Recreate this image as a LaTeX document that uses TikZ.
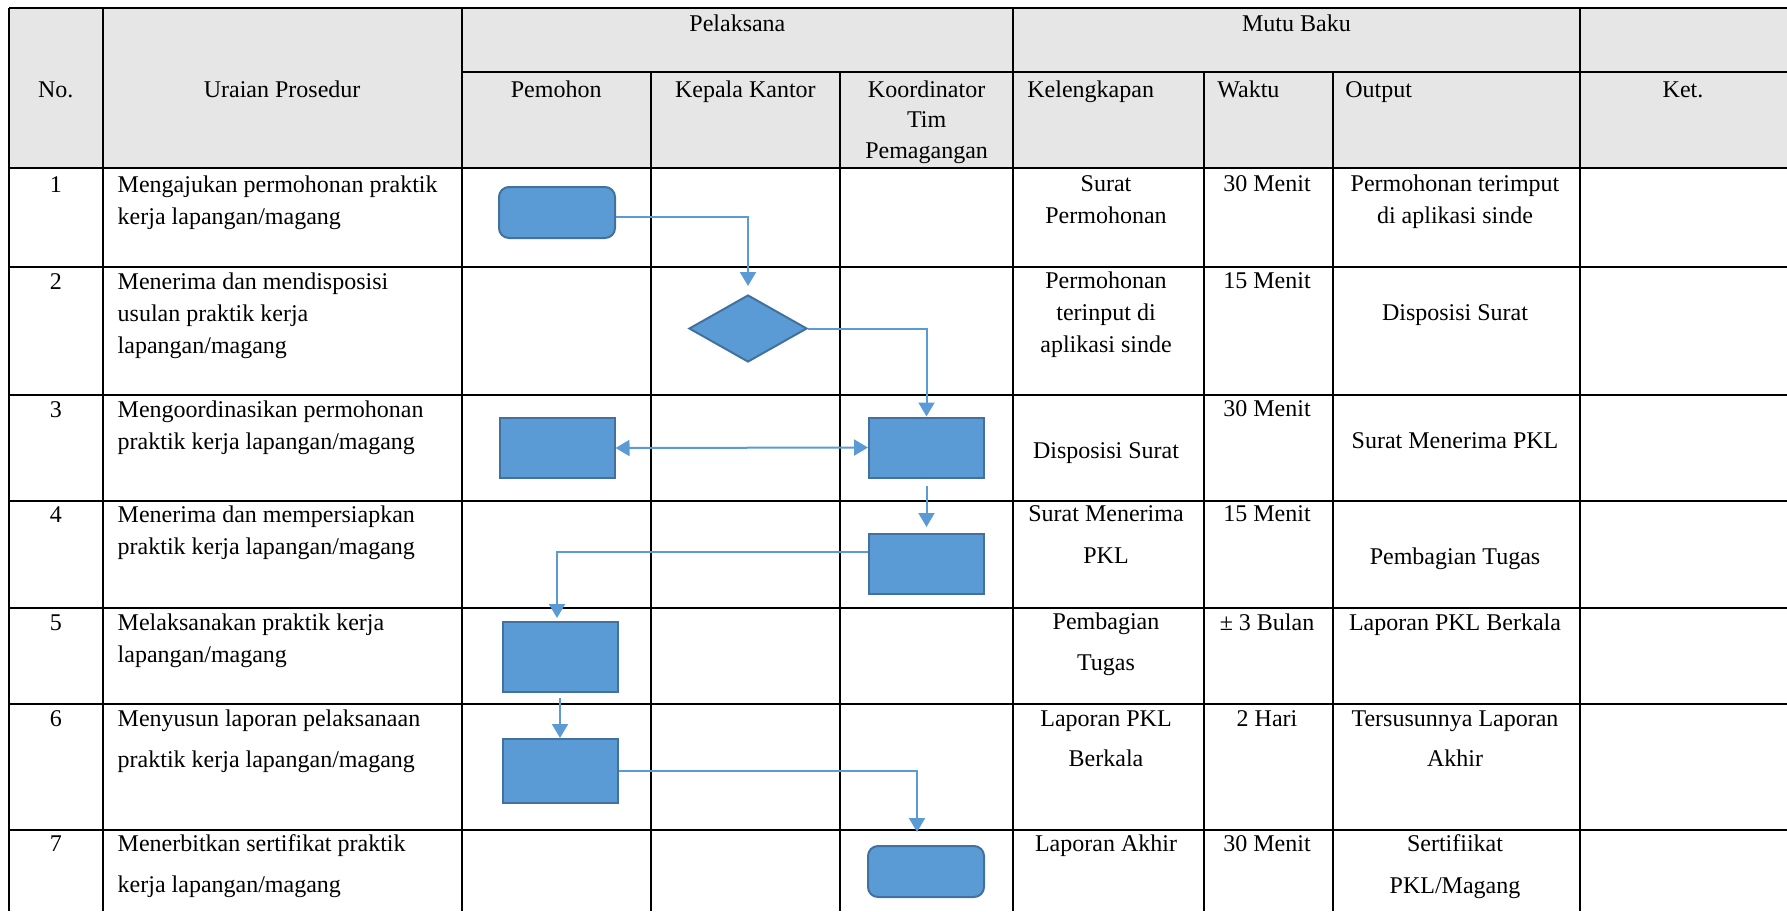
\documentclass[tikz,border=0pt]{standalone}
\usepackage{fontspec}
\setmainfont{Liberation Serif}
\usetikzlibrary{shapes.geometric,arrows.meta}

\definecolor{hdrgray}{HTML}{E7E6E6}
\definecolor{flowfill}{HTML}{5B9BD5}
\definecolor{flowline}{HTML}{41719C}

\begin{document}
\begin{tikzpicture}[x=0.5pt,y=-0.5pt]
  \tikzset {
    tabline/.style={line width=1pt, draw=black},
    txt/.style={anchor=base, inner sep=0, align=center,
      font=\fontsize{12}{16}\selectfont},
    lefttxt/.style={txt, anchor=base west, align=left},
    spaced/.style={font=\fontsize{12}{20.3}\selectfont},
    proc/.style={
      rectangle,
      draw=flowline,
      fill=flowfill,
      line width=1pt,
      inner sep=0,
      minimum width=57.5pt,
      minimum height=30pt
    },
    term/.style={proc, rounded corners=5pt, minimum width=58pt, minimum height=25.5pt},
    choice/.style={
      diamond,
      draw=flowline,
      fill=flowfill,
      line width=1pt,
      inner sep=0,
      aspect=1.76,
      minimum width=59pt,
      minimum height=33.5pt
    },
    flow/.style={draw=flowfill, line width=1pt, -{Triangle[width=8pt,length=7pt]}}
  }
  \useasboundingbox (0,0) rectangle (1787,911);

  % table
  \fill[hdrgray] (9,8) rectangle (1787,168);
  \draw[tabline] (9,8) -- (1787,8);
  \draw[tabline] (461.6,72) -- (1787,72);
  \foreach \y in {168,266.7,395,500.7,607.7,703.7,829.7}
    \draw[tabline] (9,\y) -- (1787,\y);
  \foreach \x in {9,102.6,461.6,1013.2,1579.6}
    \draw[tabline] (\x,8) -- (\x,911);
  \foreach \x in {650.8,840,1203.5,1333.4}
    \draw[tabline] (\x,72) -- (\x,911);

  % header (multi-line nodes sit on their last baseline)
  \node[txt](pelaksana) at (737.4,31.7) {Pelaksana};
  \node[txt](mutubaku) at (1296.4,31.7) {Mutu Baku};
  \node[txt](hno) at (55.8,97) {No.};
  \node[txt](huraian) at (282.1,97) {Uraian Prosedur};
  \node[txt](hpemohon) at (556.2,97) {Pemohon};
  \node[txt](hkepala) at (745.4,97) {Kepala Kantor};
  \node[txt, font=\fontsize{12}{15.4}\selectfont](hkoord) at (926.6,158.6) {Koordinator\\Tim\\Pemagangan};
  \node[lefttxt](hkel) at (1027,97) {Kelengkapan};
  \node[lefttxt](hwaktu) at (1217,97) {Waktu};
  \node[lefttxt](houtput) at (1345,97) {Output};
  \node[txt](hket) at (1683,97) {Ket.};

  % nomor
  \foreach \n/\y in {1/192.3,2/289,3/417.3,4/522.3,5/630,6/726.7,7/851.7}
    \node[txt](no\n) at (55.8,\y) {\n};

  % uraian prosedur
  \node[lefttxt](ur1) at (117.3,224.3) {Mengajukan permohonan praktik\\kerja lapangan/magang};
  \node[lefttxt](ur2) at (117.3,353) {Menerima dan mendisposisi\\usulan praktik kerja\\lapangan/magang};
  \node[lefttxt](ur3) at (117.3,449.3) {Mengoordinasikan permohonan\\praktik kerja lapangan/magang};
  \node[lefttxt](ur4) at (117.3,554.3) {Menerima dan mempersiapkan\\praktik kerja lapangan/magang};
  \node[lefttxt](ur5) at (117.3,662) {Melaksanakan praktik kerja\\lapangan/magang};
  \node[lefttxt, spaced](ur6) at (117.3,767.3) {Menyusun laporan pelaksanaan\\praktik kerja lapangan/magang};
  \node[lefttxt, spaced](ur7) at (117.3,892.3) {Menerbitkan sertifikat praktik\\kerja lapangan/magang};

  % kelengkapan
  \node[txt](kel1) at (1106,223.7) {Surat\\Permohonan};
  \node[txt](kel2) at (1106,352.3) {Permohonan\\terinput di\\aplikasi sinde};
  \node[txt](kel3) at (1106,458.3) {Disposisi Surat};
  \node[txt, font=\fontsize{12}{21}\selectfont](kel4) at (1106,563.7) {Surat Menerima\\PKL};
  \node[txt, spaced](kel5) at (1106,670) {Pembagian\\Tugas};
  \node[txt, spaced](kel6) at (1106,766.7) {Laporan PKL\\Berkala};
  \node[txt](kel7) at (1106,851.7) {Laporan Akhir};

  % waktu
  \node[txt](wk1) at (1267,191.7) {30 Menit};
  \node[txt](wk2) at (1267,288.3) {15 Menit};
  \node[txt](wk3) at (1267,416.7) {30 Menit};
  \node[txt](wk4) at (1267,521.7) {15 Menit};
  \node[txt](wk5) at (1267,630) {± 3 Bulan};
  \node[txt](wk6) at (1267,726.7) {2 Hari};
  \node[txt](wk7) at (1267,851.7) {30 Menit};

  % output
  \node[txt](out1) at (1455,223.7) {Permohonan terimput\\di aplikasi sinde};
  \node[txt](out2) at (1455,320.7) {Disposisi Surat};
  \node[txt](out3) at (1455,448.3) {Surat Menerima PKL};
  \node[txt](out4) at (1455,564) {Pembagian Tugas};
  \node[txt](out5) at (1455,630) {Laporan PKL Berkala};
  \node[txt, spaced](out6) at (1455,766.7) {Tersusunnya Laporan\\Akhir};
  \node[txt, font=\fontsize{12}{21}\selectfont](out7) at (1455,893.3) {Sertifiikat\\PKL/Magang};

  % flowchart
  \node[term](start) at (557,212.5) {};
  \node[choice](dispo) at (748,328.5) {};
  \node[proc](pem3) at (557,448) {};
  \node[proc](koord3) at (926.5,447.5) {};
  \node[proc](koord4) at (926.5,564) {};
  \node[proc, minimum height=35pt](pem5) at (560,657) {};
  \node[proc, minimum height=32pt](pem6) at (560,771) {};
  \node[term](finish) at (926,871.5) {};

  \draw[flow, shorten >=4pt] ([yshift=-2.25pt]start.east) -| (dispo.north);
  \draw[flow] (dispo.east) -| (koord3.north);
  \draw[flow, {Triangle[width=8pt,length=7pt]}-{Triangle[width=8pt,length=7pt]}] (pem3.east) -- (koord3.west);
  \draw[flow, shorten <=3.5pt, shorten >=3pt] (koord3.south) -- (koord4.north);
  \draw[flow, shorten >=1.5pt] ([yshift=6pt]koord4.west) -| ([xshift=-1.5pt]pem5.north);
  \draw[flow, shorten <=2.5pt] (pem5.south) -- (pem6.north);
  \draw[flow, shorten >=6.5pt] (pem6.east) -| ([xshift=-4.5pt]finish.north);

\end{tikzpicture}
\end{document}
